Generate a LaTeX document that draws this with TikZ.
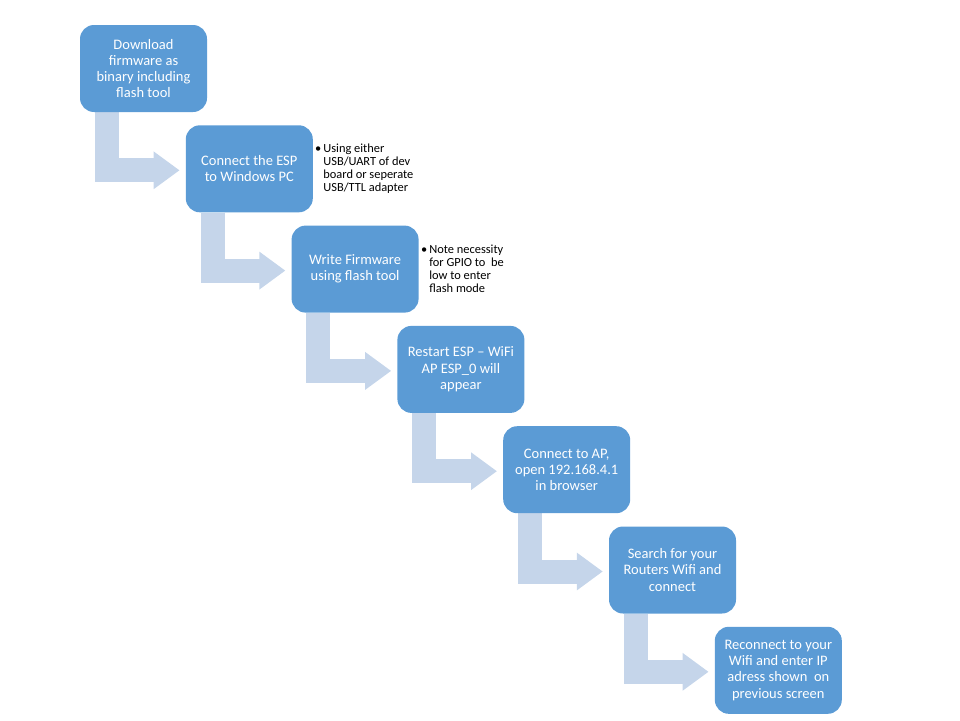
\documentclass[tikz,border=0pt]{standalone}
\usepackage{fontspec}
\setmainfont{Carlito}
\usepackage{tikz}
\usetikzlibrary{arrows.meta,positioning,calc,backgrounds}
\definecolor{boxblue}{HTML}{5B9BD5}
\definecolor{bendblue}{HTML}{C5D5EA}
\tikzset{
	box/.style={rectangle,rounded corners=14pt,fill=boxblue,text=white,minimum width=127pt,minimum height=87pt,inner sep=2pt,align=center,font=\fontsize{14.5}{16.3}\selectfont},
	note/.style={anchor=north west,inner sep=0pt,font=\fontsize{12.4}{13.2}\selectfont},
	bendarrow/.style={-{Triangle[width=36pt,length=26pt]},draw=bendblue,line width=24pt,line join=miter}
}

\begin{document}
\begin{tikzpicture}[x=1pt,y=-1pt]
	\useasboundingbox (0,0) rectangle (960,720);
	%%%steps
	\node[box] (b1) at (143.5,68.5) {Download\\firmware as\\binary including\\flash tool};
	\node[box] (b2) at (249.3,168.8) {Connect the ESP\\to Windows PC};
	\node[box] (b3) at (355.1,269.1) {Write Firmware\\using flash tool};
	\node[box] (b4) at (460.9,369.4) {Restart ESP -- WiFi\\AP ESP\_0 will\\appear};
	\node[box] (b5) at (566.7,469.7) {Connect to AP,\\open 192.168.4.1\\in browser};
	\node[box] (b6) at (672.5,570.0) {Search for your\\Routers Wifi and\\connect};
	\node[box] (b7) at (778.3,670.3) {Reconnect to your\\Wifi and enter IP\\adress shown\ \ on\\previous screen};

	%%%notes
	\node[note] (n2) at (315,143.5) {\textbullet\hspace{2pt}\parbox[t]{110pt}{Using either\\USB/UART of dev\\board or seperate\\USB/TTL adapter}};
	\node[note] (n3) at (421,244.5) {\textbullet\hspace{2pt}\parbox[t]{110pt}{Note necessity\\for GPIO to\ \ be\\low to enter\\flash mode}};

	%%%bent arrows
	\begin{scope}[on background layer]
	\foreach \a/\b in {b1/b2,b2/b3,b3/b4,b4/b5,b5/b6,b6/b7}
		\draw[bendarrow] ([xshift=27pt]\a.south west) |- ([xshift=-6pt,yshift=-1.5pt]\b.west);
	\end{scope}

\end{tikzpicture}
\end{document}
